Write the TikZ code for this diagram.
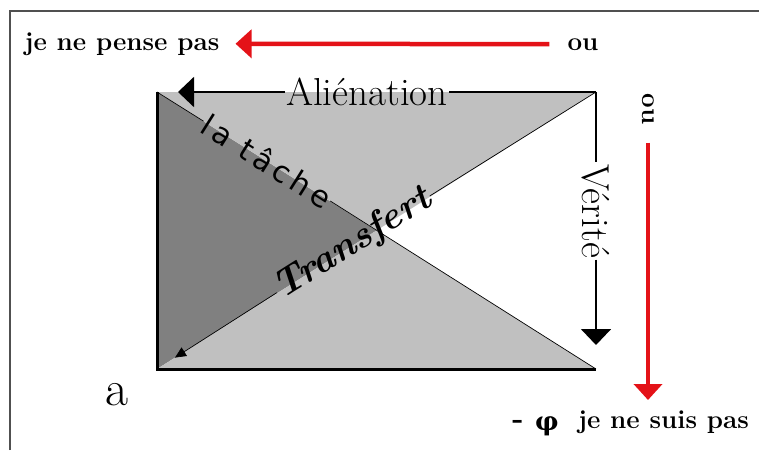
\documentclass[tikz,border=0pt]{standalone}
\usepackage{amsmath}
\usepackage{amssymb}
\usepackage{fontspec}
\newfontfamily\tachefont[LetterSpace=15]{DejaVu Sans}
\newfontfamily\greekfont{DejaVu Serif}
\usetikzlibrary{arrows.meta, positioning}

\definecolor{shadedark}{RGB}{128,128,128}
\definecolor{shadelight}{RGB}{192,192,192}
\definecolor{arrowred}{RGB}{228,18,24}
\definecolor{framegray}{RGB}{80,80,80}

\begin{document}
\begin{tikzpicture}[x=1pt, y=-1pt,
    lbl/.style={font=\fontsize{26}{30}\selectfont\bfseries, inner sep=0pt},
    side/.style={font=\fontsize{39}{42}\selectfont, inner sep=1.5pt},
    edge/.style={draw, line width=3pt},
    thin/.style={draw, line width=0.7pt},
    blkline/.style={draw, line width=2pt, -{Triangle[length=16pt, width=30pt]}},
    redline/.style={draw, arrowred, line width=4.5pt, -{Triangle[length=16pt, width=28pt]}},
    smallarrow/.style={draw, line width=0.7pt, -{Triangle[length=11pt, width=10pt]}}]

    \useasboundingbox (0,0) rectangle (759,450);
    \draw[framegray, line width=1.5pt] (10,450) -- (10,11) -- (759,11);

    % corners of the square
    \coordinate (c-tl) at (157,92);
    \coordinate (c-tr) at (596,92);
    \coordinate (c-br) at (596,369);
    \coordinate (c-bl) at (157,369);
    \coordinate (c-mid) at (376.5,230.5);

    \fill[shadedark] (c-tl) -- (c-mid) -- (c-bl) -- cycle;
    \fill[shadelight] (c-tl) -- (c-tr) -- (c-mid) -- cycle;
    \fill[shadelight] (c-bl) -- (c-br) -- (c-mid) -- cycle;
    \path[edge] (c-tl) -- (c-bl) -- (c-br);

    \node [side] (alien) at (367,92) {Aliénation};
    \node [side, rotate=-90] (verite) at (596,211) {Vérité};
    \node [inner sep=1pt, rotate=-32.25] (tache) at (267,161) {\fontsize{30}{32}\tachefont la tâche};
    \node [inner sep=1pt, rotate=32.25] (trans) at (353,244) {\fontsize{38}{40}\selectfont\bfseries\itshape Transfert};

    \coordinate (a-tip) at (178,92);
    \coordinate (v-tip) at (596,345);
    \coordinate (t-tip) at (175,357.6);

    \path[draw, line width=2pt] (c-tr) -- (alien);
    \path[blkline] (alien) -- (a-tip);
    \path[draw, line width=2pt] (c-tr) -- (verite);
    \path[blkline] (verite) -- (v-tip);

    \path[thin] (c-tl) -- (tache);
    \path[thin] (tache) -- (c-br);
    \path[thin] (c-tr) -- (trans);
    \path[smallarrow] (trans) -- (t-tip);

    % outer labels
    \node [lbl, anchor=base] (pense) at (122,50) {je ne pense pas};
    \node [lbl, anchor=base] (ou-top) at (583,50) {ou};
    \node [lbl, rotate=-90] (ou-side) at (648,109) {ou};
    \node [lbl, anchor=base west] (suis) at (578,428) {je ne suis pas};
    \node [lbl, anchor=base] (phi) at (547,430) {\greekfont\bfseries φ};
    \node [lbl, anchor=base] (minus) at (518,428) {\fontsize{30}{32}\selectfont -};
    \node [font=\fontsize{50}{54}\selectfont, inner sep=0pt] (letter-a) at (117,395) {a};

    \coordinate (r-tip) at (648,400);
    \path[redline] ([xshift=-18pt]ou-top.west) -- ([xshift=16pt]pense.east);
    \path[redline] ([yshift=-18pt]ou-side.east) -- (r-tip);
\end{tikzpicture}
\end{document}
